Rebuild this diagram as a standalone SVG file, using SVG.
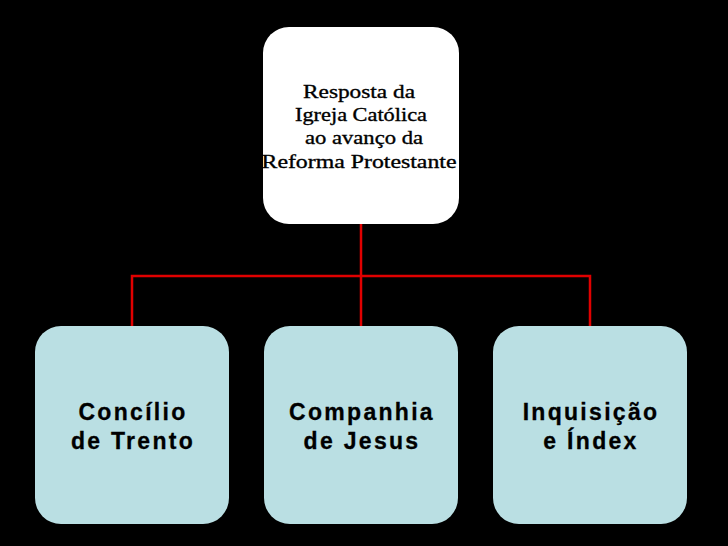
<svg xmlns="http://www.w3.org/2000/svg" width="728" height="546" viewBox="0 0 728 546">
<style>
.top{fill:#ffffff}
.box{fill:#badfe3}
.t1{font-family:"Liberation Serif","DejaVu Serif",serif;font-size:19px;fill:#000;stroke:#000;stroke-width:0.35;text-anchor:middle}
.t2{font-family:"Liberation Sans",Arial,sans-serif;font-size:23px;font-weight:bold;letter-spacing:2.3px;fill:#000;stroke:#000;stroke-width:0.3;text-anchor:middle}
.c{stroke:#e00000;stroke-width:2.5;fill:none}
</style>
<rect width="728" height="546" fill="#000"/>
<g id="connectors">
<path class="c" d="M361 224 V326"/>
<path class="c" d="M132 326 V276 H590 V326"/>
</g>
<g id="node-top">
<rect class="top" x="263" y="27" width="196" height="197" rx="26"/>
<text class="t1" x="359" y="98" textLength="112" lengthAdjust="spacingAndGlyphs">Resposta da</text>
<text class="t1" x="361" y="121" textLength="132" lengthAdjust="spacingAndGlyphs">Igreja Católica</text>
<text class="t1" x="364" y="144" textLength="118" lengthAdjust="spacingAndGlyphs">ao avanço da</text>
<text class="t1" x="359" y="168" textLength="195" lengthAdjust="spacingAndGlyphs">Reforma Protestante</text>
</g>
<g id="node-trento">
<rect class="box" x="35" y="326" width="194" height="198" rx="26"/>
<text class="t2" x="133" y="420">Concílio</text>
<text class="t2" x="133" y="449">de Trento</text>
</g>
<g id="node-jesus">
<rect class="box" x="264" y="326" width="194" height="198" rx="26"/>
<text class="t2" x="362" y="420">Companhia</text>
<text class="t2" x="362" y="449">de Jesus</text>
</g>
<g id="node-inquisicao">
<rect class="box" x="493" y="326" width="194" height="198" rx="26"/>
<text class="t2" x="591" y="420">Inquisição</text>
<text class="t2" x="591" y="449">e Índex</text>
</g>
</svg>
